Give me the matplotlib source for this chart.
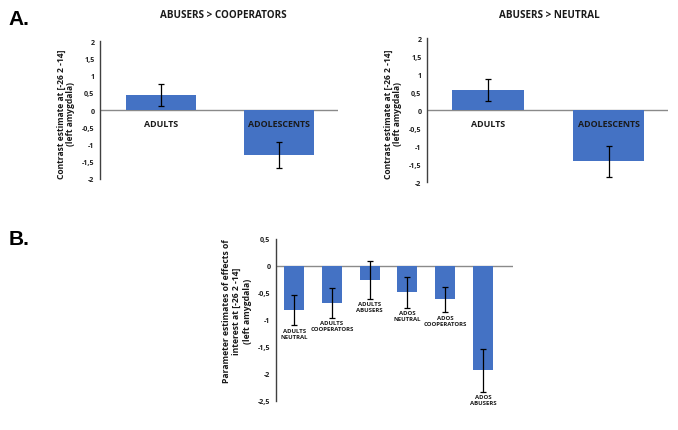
import matplotlib
matplotlib.use("Agg")
import matplotlib.pyplot as plt
from matplotlib.ticker import FuncFormatter, MultipleLocator

# dados (contrastes na amígdala esquerda)
groups_a = ["ADULTS", "ADOLESCENTS"]
abusers_vs_coop = [0.43, -1.30]
abusers_vs_coop_err = [0.32, 0.38]
abusers_vs_neutral = [0.56, -1.42]
abusers_vs_neutral_err = [0.31, 0.43]

conditions_b = ["ADULTS\nNEUTRAL", "ADULTS\nCOOPERATORS", "ADULTS\nABUSERS",
                "ADOS\nNEUTRAL", "ADOS\nCOOPERATORS", "ADOS\nABUSERS"]
param_estimates = [-0.82, -0.68, -0.26, -0.49, -0.62, -1.93]
param_err = [0.28, 0.28, 0.35, 0.28, 0.24, 0.40]

BLUE = "#4472C4"
TXT = "#1a1a1a"
plt.rcParams["font.family"] = ["Open Sans", "DejaVu Sans"]
plt.rcParams["font.weight"] = "bold"

def comma(v, pos):
    return ("%g" % v).replace(".", ",")

def style_axis(ax, ylim, step):
    ax.set_ylim(*ylim)
    ax.yaxis.set_major_locator(MultipleLocator(step))
    ax.yaxis.set_major_formatter(FuncFormatter(comma))
    for s in ["top", "right", "bottom"]:
        ax.spines[s].set_visible(False)
    ax.spines["left"].set_color("#404040")
    ax.spines["left"].set_linewidth(1.0)
    ax.axhline(0, color="#8a8a8a", lw=1.0, zorder=1)
    ax.set_xticks([])
    ax.tick_params(axis="y", length=0, pad=4, labelsize=5.1, labelcolor="#202020")
    for t in ax.get_yticklabels():
        t.set_fontweight("bold")

fig = plt.figure(figsize=(6.78, 4.31), dpi=100)

# painel A
panels = [
    ([0.1475, 0.5824, 0.351, 0.320], abusers_vs_coop, abusers_vs_coop_err,
     "ABUSERS > COOPERATORS", (-0.517, 1.5), 0.329),
    ([0.6298, 0.5754, 0.3555, 0.334], abusers_vs_neutral, abusers_vs_neutral_err,
     "ABUSERS > NEUTRAL", (-0.506, 1.49), 0.810),
]
for rect, vals, errs, title, xl, tx in panels:
    ax = fig.add_axes(rect)
    x = range(len(groups_a))
    ax.bar(x, vals, width=0.59, color=BLUE, zorder=2)
    ax.errorbar(x, vals, yerr=errs, fmt="none", ecolor="black", elinewidth=0.9,
                capsize=2, capthick=0.9, zorder=3)
    style_axis(ax, (-2, 2), 0.5)
    ax.set_xlim(*xl)
    for i, g in enumerate(groups_a):
        ax.annotate(g, (i, 0), xytext=(0, -10), textcoords="offset points",
                    ha="center", va="center", fontsize=6.4, fontweight="bold",
                    color=TXT, zorder=4)
    ax.text(-0.142, 0.48, "Contrast estimate at [-26 2 -14]\n(left amygdala)",
            transform=ax.transAxes, rotation=90, ha="center", va="center",
            fontsize=6.1, fontweight="bold", linespacing=1.0, color=TXT)
    fig.text(tx, 0.963, title, ha="center", va="center",
             fontsize=7.1, fontweight="bold", color=TXT)

# painel B
axb = fig.add_axes([0.4071, 0.0673, 0.3496, 0.3759])
xb = range(len(conditions_b))
axb.bar(xb, param_estimates, width=0.53, color=BLUE, zorder=2)
axb.errorbar(xb, param_estimates, yerr=param_err, fmt="none", ecolor="black",
             elinewidth=0.9, capsize=2, capthick=0.9, zorder=3)
style_axis(axb, (-2.5, 0.5), 0.5)
axb.set_xlim(-0.48, 5.8)
for i, (lab, v, e) in enumerate(zip(conditions_b, param_estimates, param_err)):
    axb.text(i, v - e - 0.04, lab, ha="center", va="top", fontsize=4.3,
             fontweight="bold", linespacing=1.25, color=TXT)
axb.text(-0.165, 0.56,
         "Parameter estimates of effects of\ninterest at [-26 2 -14]\n(left amygdala)",
         transform=axb.transAxes, rotation=90, ha="center", va="center",
         fontsize=6.2, fontweight="bold", linespacing=1.15, color=TXT)

fig.text(0.012, 0.955, "A.", fontsize=15, fontweight="bold",
         family="Liberation Sans", va="center", ha="left")
fig.text(0.012, 0.444, "B.", fontsize=15, fontweight="bold",
         family="Liberation Sans", va="center", ha="left")

fig.savefig("out.png", dpi=100)
